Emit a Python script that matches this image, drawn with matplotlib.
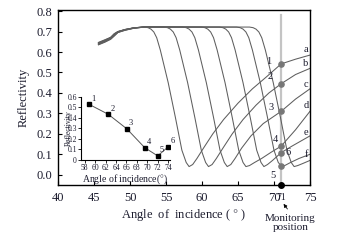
import matplotlib
matplotlib.use("Agg")
import matplotlib.pyplot as plt
from matplotlib.transforms import blended_transform_factory

plt.rcParams['font.family'] = ['Liberation Serif', 'DejaVu Serif']
plt.rcParams['mathtext.fontset'] = 'stix'

# reflectivity curves (angle in degrees, reflectivity)
ang_a = [45.6, 46.5, 47.3, 47.8, 48.3, 49.3, 50.5, 52.0, 52.5, 52.9, 53.3, 53.7, 54.2, 55.3, 56.3, 57.2, 57.8, 58.2, 58.7, 59.3, 60.2, 61.5, 63.0, 65.0, 67.0, 69.0, 71.0, 73.0, 75.0]
ref_a = [0.647, 0.66, 0.672, 0.69, 0.70, 0.71, 0.718, 0.722, 0.719, 0.712, 0.698, 0.67, 0.61, 0.45, 0.28, 0.12, 0.06, 0.04, 0.05, 0.08, 0.13, 0.20, 0.27, 0.35, 0.42, 0.48, 0.542, 0.565, 0.585]
ang_b = [45.6, 46.5, 47.3, 47.8, 48.3, 49.3, 50.5, 52.0, 54.7, 55.2, 55.6, 56.0, 56.4, 56.9, 58.0, 59.0, 59.9, 60.5, 60.9, 61.4, 62.0, 62.9, 64.2, 65.7, 67.5, 69.3, 71.0, 73.0, 75.0]
ref_b = [0.645, 0.658, 0.671, 0.688, 0.70, 0.71, 0.718, 0.723, 0.722, 0.719, 0.712, 0.698, 0.67, 0.61, 0.45, 0.28, 0.12, 0.06, 0.04, 0.05, 0.08, 0.13, 0.20, 0.27, 0.34, 0.40, 0.445, 0.49, 0.52]
ang_c = [45.6, 46.5, 47.3, 47.8, 48.3, 49.3, 50.5, 52.0, 57.3, 57.8, 58.2, 58.6, 59.0, 59.5, 60.6, 61.6, 62.5, 63.1, 63.5, 64.0, 64.6, 65.5, 66.8, 68.5, 71.0, 73.0, 75.0]
ref_c = [0.643, 0.656, 0.67, 0.686, 0.699, 0.71, 0.718, 0.723, 0.722, 0.719, 0.712, 0.698, 0.67, 0.61, 0.45, 0.28, 0.12, 0.06, 0.04, 0.05, 0.08, 0.13, 0.19, 0.25, 0.31, 0.37, 0.42]
ang_d = [45.6, 46.5, 47.3, 47.8, 48.3, 49.3, 50.5, 52.0, 59.9, 60.4, 60.8, 61.2, 61.6, 62.1, 63.2, 64.2, 65.1, 65.7, 66.1, 66.6, 67.3, 68.3, 69.6, 71.0, 73.0, 75.0]
ref_d = [0.641, 0.654, 0.668, 0.684, 0.698, 0.709, 0.718, 0.723, 0.722, 0.719, 0.712, 0.698, 0.67, 0.61, 0.45, 0.28, 0.12, 0.06, 0.04, 0.045, 0.06, 0.08, 0.11, 0.14, 0.22, 0.31]
ang_e = [45.6, 46.5, 47.3, 47.8, 48.3, 49.3, 50.5, 52.0, 62.4, 62.9, 63.3, 63.7, 64.1, 64.6, 65.7, 66.7, 67.6, 68.2, 68.6, 69.1, 69.8, 71.0, 72.5, 74.0, 75.0]
ref_e = [0.639, 0.652, 0.666, 0.682, 0.697, 0.708, 0.717, 0.722, 0.722, 0.719, 0.712, 0.698, 0.67, 0.61, 0.45, 0.28, 0.12, 0.06, 0.04, 0.05, 0.07, 0.108, 0.14, 0.17, 0.19]
ang_f = [45.6, 46.5, 47.3, 47.8, 48.3, 49.3, 50.5, 52.0, 64.8, 65.3, 65.7, 66.1, 66.5, 67.0, 68.1, 69.1, 70.0, 70.6, 71.0, 71.5, 72.3, 73.5, 75.0]
ref_f = [0.637, 0.65, 0.664, 0.68, 0.696, 0.707, 0.716, 0.722, 0.722, 0.719, 0.712, 0.698, 0.67, 0.61, 0.45, 0.28, 0.12, 0.06, 0.044, 0.045, 0.06, 0.08, 0.10]
ang_g = [45.6, 46.5, 47.3, 47.8, 48.3, 49.3, 50.5, 52.0, 66.6, 67.1, 67.5, 67.9, 68.3, 68.8, 69.9, 70.9, 71.8, 72.4, 72.8, 73.3, 74.0, 75.0]
ref_g = [0.635, 0.648, 0.662, 0.678, 0.695, 0.706, 0.716, 0.722, 0.722, 0.719, 0.712, 0.698, 0.67, 0.61, 0.45, 0.28, 0.12, 0.06, 0.04, 0.045, 0.055, 0.07]

curve_angles = [ang_a, ang_b, ang_c, ang_d, ang_e, ang_f, ang_g]
curve_refl = [ref_a, ref_b, ref_c, ref_d, ref_e, ref_f, ref_g]

# curve letters at the right edge
letters = ['a', 'b', 'c', 'd', 'e', 'f']
letter_y = [0.61, 0.546, 0.44, 0.34, 0.205, 0.098]

# points on the monitoring line
monitor_angle = 71
point_ids = ['1', '2', '3', '4', '5', '6']
point_refl = [0.542, 0.445, 0.31, 0.14, 0.044, 0.108]

# inset: reflectivity at monitoring position
inset_angle = [58.8, 62.5, 66.1, 69.5, 72.0, 74.0]
inset_refl = [0.53, 0.435, 0.295, 0.117, 0.038, 0.124]

txt = '#1c1c2e'

fig = plt.figure(figsize=(3.38, 2.46), dpi=100)
ax = fig.add_axes([0.172, 0.248, 0.745, 0.711])

for xs, ys in zip(curve_angles, curve_refl):
    ax.plot(xs, ys, color='#5e5e5e', lw=0.75)

ax.plot([monitor_angle, monitor_angle], [-0.05, 0.78], color='#c4c4c4', lw=1.6, zorder=1)
ax.scatter([monitor_angle] * len(point_refl), point_refl, s=14, color='#777777', zorder=4)
ax.plot([monitor_angle], [-0.05], 'o', color='black', ms=4, clip_on=False, zorder=5)

# number labels next to points
offs = {'1': (-9, 2), '2': (-8, 5), '3': (-7, 3), '4': (-4, 5), '5': (-6, -7), '6': (5, 0)}
for pid, val in zip(point_ids, point_refl):
    dx, dy = offs[pid]
    ax.annotate(pid, (monitor_angle, val), xytext=(dx, dy), textcoords='offset points',
                ha='center', va='center', fontsize=7.5, color=txt)

for lt, yy in zip(letters, letter_y):
    ax.text(74.45, yy, lt, fontsize=7.5, color=txt, ha='center', va='center')

ax.set_xlim(40, 75)
ax.set_ylim(-0.05, 0.805)
ax.set_xticks([40, 45, 50, 55, 60, 65, 70, 75])
ax.set_yticks([0.0, 0.1, 0.2, 0.3, 0.4, 0.5, 0.6, 0.7, 0.8])
ax.set_yticklabels(['0.0', '0.1', '0.2', '0.3', '0.4', '0.5', '0.6', '0.7', '0.8'])
ax.tick_params(direction='in', length=3, width=0.8, labelsize=9, colors='black', labelcolor=txt, pad=4)
ax.tick_params(axis='x', pad=5)
for sp in ax.spines.values():
    sp.set_linewidth(1.0)
ax.set_xlabel('Angle  of  incidence ( $\\degree$ )', fontsize=9, color=txt, labelpad=2)
ax.set_ylabel('Reflectivity', fontsize=9, color=txt, labelpad=5)

trans = blended_transform_factory(ax.transData, ax.transAxes)
ax.text(monitor_angle, -0.045, '71', transform=trans, fontsize=7, color=txt, ha='center', va='top')
ax.annotate('', xy=(71.1, -0.095), xycoords=trans, xytext=(72.1, -0.15), textcoords=trans,
            arrowprops=dict(arrowstyle='-|>', color='black', lw=0.6, mutation_scale=5))
ax.text(72.3, -0.215, 'Monitoring\nposition', transform=trans, fontsize=8, color=txt,
        ha='center', va='center', linespacing=1.0)

# inset
ins = fig.add_axes([0.240, 0.350, 0.262, 0.256])
ins.patch.set_alpha(0)
ins.plot(inset_angle, inset_refl, color='#555555', lw=0.7)
ins.plot(inset_angle, inset_refl, 's', color='black', ms=2.5)
for pid, xx, yy in zip(point_ids, inset_angle, inset_refl):
    ins.annotate(pid, (xx, yy), xytext=(3, 4), textcoords='offset points',
                 ha='center', va='center', fontsize=6, color=txt)
ins.set_xlim(57.3, 74.3)
ins.set_ylim(0, 0.6)
ins.set_xticks([58, 60, 62, 64, 66, 68, 70, 72, 74])
ins.set_yticks([0, 0.1, 0.2, 0.3, 0.4, 0.5, 0.6])
ins.set_yticklabels(['0', '0.1', '0.2', '0.3', '0.4', '0.5', '0.6'])
ins.spines['top'].set_visible(False)
ins.spines['right'].set_visible(False)
ins.tick_params(direction='out', length=2, width=0.6, labelsize=5.5, labelcolor=txt, pad=1)
ins.set_xlabel('Angle of incidence($\\degree$)', fontsize=7, color=txt, labelpad=0)
ins.set_ylabel('Reflectivity', fontsize=5.5, color=txt, labelpad=-4)

fig.savefig('out.png', dpi=100)
